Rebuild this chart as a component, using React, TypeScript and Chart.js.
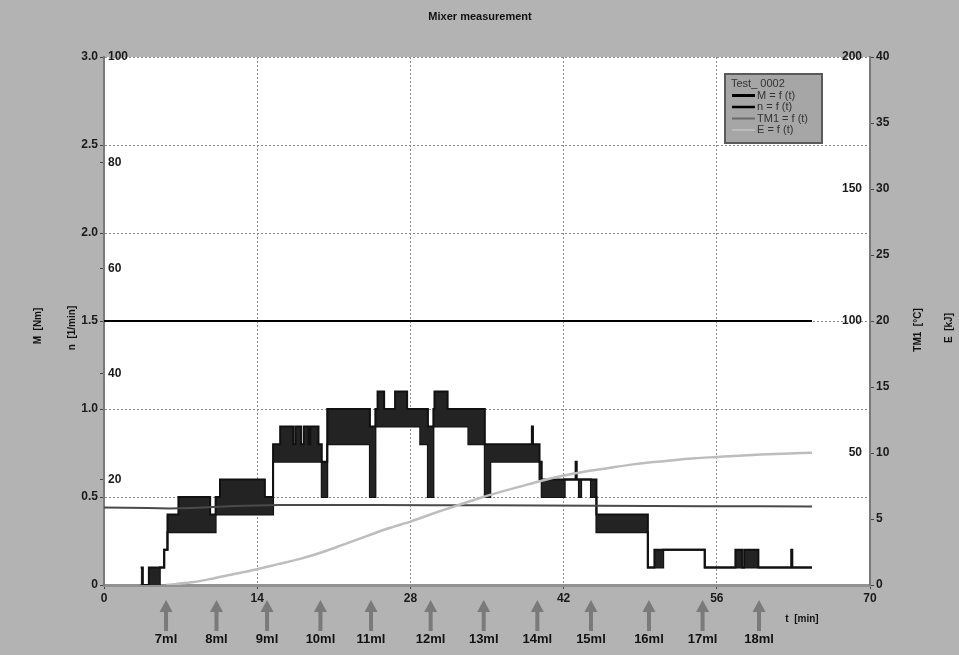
import React, { useEffect, useRef } from 'react';
import { Chart, registerables } from 'chart.js';

Chart.register(...registerables);

const chartTitle = 'Mixer measurement';
const xTicks = [0, 14, 28, 42, 56, 70];

// M = f(t): measured torque band (upper / lower envelope), Nm
const mTime = [3.35, 3.55, 4.1, 5.1, 5.5, 5.8, 6.8, 9.7, 10.2, 10.6, 14.7, 15.45, 16.1, 17.3, 17.5, 18.0, 18.25, 18.7, 18.85, 19.6, 19.9, 20.4, 24.3, 24.8, 25.0, 25.6, 26.6, 27.7, 28.9, 29.6, 30.1, 30.2, 31.4, 33.3, 34.8, 35.3, 39.1, 39.2, 39.8, 40.0, 42.1, 43.1, 43.2, 43.4, 43.6, 44.5, 45.0, 49.7, 50.3, 51.1, 54.9, 57.7, 58.3, 58.5, 59.8, 62.8, 62.9, 64.7];
const mUpper = [0.1, 0, 0.1, 0.1, 0.2, 0.4, 0.5, 0.4, 0.5, 0.6, 0.5, 0.8, 0.9, 0.8, 0.9, 0.8, 0.9, 0.8, 0.9, 0.8, 0.7, 1.0, 0.9, 1.0, 1.1, 1.0, 1.1, 1.0, 1.0, 0.9, 1.0, 1.1, 1.0, 1.0, 0.8, 0.8, 0.9, 0.8, 0.7, 0.6, 0.6, 0.7, 0.6, 0.6, 0.6, 0.6, 0.4, 0.1, 0.2, 0.2, 0.1, 0.2, 0.1, 0.2, 0.1, 0.2, 0.1, 0.1];
const mLower = [0, 0, 0, 0.1, 0.2, 0.3, 0.3, 0.3, 0.4, 0.4, 0.4, 0.7, 0.7, 0.7, 0.7, 0.7, 0.7, 0.7, 0.7, 0.7, 0.5, 0.8, 0.5, 0.9, 0.9, 0.9, 0.9, 0.9, 0.8, 0.5, 0.9, 0.9, 0.9, 0.8, 0.5, 0.7, 0.7, 0.7, 0.6, 0.5, 0.6, 0.6, 0.6, 0.5, 0.6, 0.5, 0.3, 0.1, 0.1, 0.2, 0.1, 0.1, 0.1, 0.1, 0.1, 0.1, 0.1, 0.1];

// n = f(t): speed, 1/min
const nTime = [0, 64.7];
const nValues = [50, 50];

// TM1 = f(t): temperature, °C
const tmTime = [0, 2, 4, 6, 8, 10, 12, 14, 16, 20, 25, 30, 35, 40, 45, 50, 55, 60, 64.7];
const tmValues = [29.4, 29.3, 29.2, 29.0, 29.2, 29.5, 29.9, 30.1, 30.3, 30.3, 30.3, 30.2, 30.2, 30.1, 30.0, 29.9, 29.8, 29.8, 29.7];

// E = f(t): energy, kJ
const eTime = [5.7, 8, 10, 12, 14, 16, 18, 20, 22, 24, 26, 28, 30, 32, 34, 36, 38, 40, 42, 44, 46, 48, 50, 52, 54, 56, 58, 60, 62, 64.7];
const eValues = [0, 0.2, 0.5, 0.85, 1.2, 1.6, 2.0, 2.5, 3.1, 3.7, 4.3, 4.8, 5.4, 5.95, 6.5, 7.0, 7.45, 7.9, 8.3, 8.6, 8.85, 9.1, 9.3, 9.45, 9.6, 9.7, 9.8, 9.88, 9.95, 10.02];

// water additions
const doseTimes = [5.67, 10.28, 14.9, 19.78, 24.4, 29.85, 34.7, 39.6, 44.5, 49.8, 54.7, 59.86];
const doseLabels = ['7ml', '8ml', '9ml', '10ml', '11ml', '12ml', '13ml', '14ml', '15ml', '16ml', '17ml', '18ml'];

const legendTitle = 'Test_ 0002';
const legendLabels = ['M = f (t)', 'n = f (t)', 'TM1 = f (t)', 'E = f (t)'];

const FONT = '"Liberation Sans", Arial, sans-serif';
const BG = '#b3b3b3';
const TICK_FONT = { family: FONT, size: 12, weight: 'bold' as const };
const TICK_COLOR = '#1a1a1a';

const pts = (xs: number[], ys: number[]) => xs.map((x, i) => ({ x, y: ys[i] }));

const decor = {
  id: 'decor',
  beforeDraw(chart: any) {
    const { ctx, chartArea: a, width, height } = chart;
    ctx.save();
    ctx.fillStyle = BG;
    ctx.fillRect(0, 0, width, height);
    ctx.fillStyle = '#ffffff';
    ctx.fillRect(a.left, a.top, a.right - a.left, a.bottom - a.top);
    ctx.restore();
  },
  afterDraw(chart: any) {
    const { ctx, scales } = chart;
    const xs = scales.x;
    ctx.save();
    ctx.textAlign = 'center';
    ctx.textBaseline = 'middle';
    ctx.fillStyle = '#111';
    ctx.font = `bold 11px ${FONT}`;
    ctx.fillText(chartTitle, 480, 17);

    const rot = (text: string, px: number, py: number) => {
      ctx.save();
      ctx.translate(px, py);
      ctx.rotate(-Math.PI / 2);
      ctx.fillText(text, 0, 0);
      ctx.restore();
    };
    ctx.font = `bold 10px ${FONT}`;
    rot('M  [Nm]', 38, 326);
    rot('n  [1/min]', 72, 328);
    rot('TM1  [°C]', 918, 330);
    rot('E  [kJ]', 949, 328);
    ctx.fillText('t  [min]', 802, 619);

    doseTimes.forEach((t, i) => {
      const px = xs.getPixelForValue(t);
      ctx.fillStyle = '#7a7a7a';
      ctx.fillRect(px - 2, 610, 4, 21);
      ctx.beginPath();
      ctx.moveTo(px, 600);
      ctx.lineTo(px - 6.5, 612);
      ctx.lineTo(px + 6.5, 612);
      ctx.closePath();
      ctx.fill();
      ctx.fillStyle = '#111';
      ctx.font = `bold 13px ${FONT}`;
      ctx.fillText(doseLabels[i], px, 639);
    });

    // legend box
    const lx = 725, ly = 74, lw = 97, lh = 69;
    ctx.fillStyle = '#a6a6a6';
    ctx.fillRect(lx, ly, lw, lh);
    ctx.strokeStyle = '#5a5a5a';
    ctx.lineWidth = 2;
    ctx.strokeRect(lx, ly, lw, lh);
    ctx.textAlign = 'left';
    ctx.fillStyle = '#333';
    ctx.font = `11px ${FONT}`;
    ctx.fillText(legendTitle, 731, 84);
    const colors = ['#000', '#000', '#6a6a6a', '#bcbcbc'];
    const widths = [3, 2.5, 2, 2];
    legendLabels.forEach((lab, i) => {
      const yy = 95.5 + i * 11.5;
      ctx.strokeStyle = colors[i];
      ctx.lineWidth = widths[i];
      ctx.beginPath();
      ctx.moveTo(732, yy);
      ctx.lineTo(755, yy);
      ctx.stroke();
      ctx.fillStyle = '#333';
      ctx.fillText(lab, 757, yy);
    });
    ctx.restore();
  },
};

export default function App() {
  const ref = useRef<HTMLCanvasElement>(null);
  useEffect(() => {
    document.body.style.margin = '0';
    document.body.style.overflow = 'hidden';
    const canvas = ref.current!;
    const gridCommon = { color: '#8c8c8c', lineWidth: 1, tickLength: 4, tickColor: '#444' };
    const chart = new Chart(canvas, {
      type: 'line',
      data: {
        datasets: [
          {
            label: 'E', data: pts(eTime, eValues), yAxisID: 'yE', borderColor: '#bdbdbd',
            borderWidth: 2.5, pointRadius: 0, cubicInterpolationMode: 'monotone', fill: false,
          },
          {
            label: 'TM1', data: pts(tmTime, tmValues), yAxisID: 'yT', borderColor: '#4a4a4a',
            borderWidth: 2, pointRadius: 0, fill: false,
          },
          {
            label: 'n', data: pts(nTime, nValues), yAxisID: 'yN', borderColor: '#000',
            borderWidth: 2, pointRadius: 0, fill: false,
          },
          {
            label: 'M upper', data: pts(mTime, mUpper), yAxisID: 'yM', borderColor: '#111',
            borderWidth: 2, pointRadius: 0, stepped: 'before', fill: '+1', backgroundColor: '#232323',
          },
          {
            label: 'M lower', data: pts(mTime, mLower), yAxisID: 'yM', borderColor: '#111',
            borderWidth: 2, pointRadius: 0, stepped: 'before', fill: false,
          },
        ],
      },
      options: {
        responsive: false,
        animation: false,
        layout: { padding: { top: 57, left: 0, right: 0, bottom: 0 } },
        plugins: { legend: { display: false }, tooltip: { enabled: false }, title: { display: false } },
        scales: {
          x: {
            type: 'linear', position: 'bottom', min: 0, max: 70,
            afterBuildTicks: (s: any) => { s.ticks = xTicks.map((v) => ({ value: v })); },
            ticks: { font: TICK_FONT, color: TICK_COLOR, padding: 2, maxRotation: 0, autoSkip: false },
            grid: gridCommon,
            border: { color: '#929292', width: 3, dash: [2, 2] },
            afterFit: (s: any) => { s.height = 70; },
          },
          yM: {
            type: 'linear', position: 'left', min: 0, max: 3, weight: 2,
            ticks: {
              stepSize: 0.5, font: TICK_FONT, color: TICK_COLOR, padding: 2,
              callback: (v: any) => (v === 0 ? '0' : Number(v).toFixed(1)),
            },
            grid: gridCommon,
            border: { color: '#7a7a7a', width: 2, dash: [2, 2] },
            afterFit: (s: any) => { s.width = 104; },
          },
          yN: {
            type: 'linear', position: 'left', min: 0, max: 100, weight: 1,
            ticks: {
              stepSize: 20, mirror: true, padding: 4, font: TICK_FONT, color: TICK_COLOR,
              callback: (v: any) => (v === 0 ? '' : String(v)),
            },
            grid: { drawOnChartArea: false, tickLength: 4, tickColor: '#444' },
            border: { display: false },
            afterFit: (s: any) => { s.width = 0; },
          },
          yT: {
            type: 'linear', position: 'right', min: 0, max: 200, weight: 1,
            ticks: {
              stepSize: 50, mirror: true, padding: -8, font: TICK_FONT, color: TICK_COLOR,
              callback: (v: any) => (v === 0 ? '' : String(v)),
            },
            grid: { drawOnChartArea: false, tickLength: 4, tickColor: '#444' },
            border: { display: false },
            afterFit: (s: any) => { s.width = 0; },
          },
          yE: {
            type: 'linear', position: 'right', min: 0, max: 40, weight: 2,
            ticks: { stepSize: 5, font: TICK_FONT, color: TICK_COLOR, padding: 2 },
            grid: { drawOnChartArea: false, tickLength: 4, tickColor: '#444' },
            border: { color: '#7a7a7a', width: 2 },
            afterFit: (s: any) => { s.width = 89; },
          },
        },
      } as any,
      plugins: [decor],
    });
    return () => chart.destroy();
  }, []);
  return <canvas ref={ref} width={959} height={655} style={{ display: 'block' }} />;
}
